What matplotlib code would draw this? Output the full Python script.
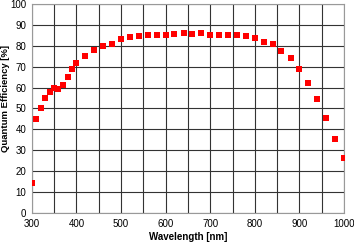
import matplotlib.pyplot as plt

# wavelength [nm] and quantum efficiency [%]
wavelength = [300, 309, 320, 329, 340, 350, 359, 369, 380, 390, 399, 420, 440,
              460, 480, 500, 520, 541, 560, 580, 600, 619, 640, 660, 680, 700,
              720, 740, 760, 780, 800, 820, 840, 859, 880, 900, 920, 940, 960,
              980, 999]
qe = [14.4, 45.0, 50.0, 55.0, 58.0, 60.0, 59.5, 61.0, 65.0, 69.0, 71.6, 75.0,
      78.0, 80.0, 81.0, 83.0, 84.0, 84.5, 85.0, 85.2, 85.0, 85.6, 86.0, 85.6,
      86.0, 85.0, 85.0, 85.0, 85.0, 84.5, 83.5, 82.0, 80.7, 77.7, 74.0, 69.0,
      62.2, 54.4, 45.6, 35.6, 26.5]

plt.rcParams['font.family'] = ['Liberation Sans', 'DejaVu Sans']

fig = plt.figure(figsize=(3.54, 2.44), dpi=100)
ax = fig.add_axes([0.09, 0.127, 0.882, 0.857])

ax.plot(wavelength, qe, 's', color='#ff0000', markersize=4.2,
        markeredgewidth=0, zorder=3)

ax.set_xlim(300, 1000)
ax.set_ylim(0, 100)
ax.set_xticks(range(300, 1001, 100))
ax.set_xticks(range(300, 1001, 50), minor=True)
ax.set_yticks(range(0, 101, 10))

ax.grid(which='both', color='#333333', linewidth=0.8)
ax.tick_params(which='both', length=0, labelsize=7, pad=4)
for s in ax.spines.values():
    s.set_color('#999999')
    s.set_linewidth(0.8)

ax.set_xlabel('Wavelength [nm]', fontsize=7, fontweight='bold')
ax.xaxis.set_label_coords(0.5, -0.09)
ax.set_ylabel('Quantum Efficiency [%]', fontsize=6.8, fontweight='bold')
ax.yaxis.set_label_coords(-0.07, 0.55)

fig.savefig('out.png', dpi=100)
